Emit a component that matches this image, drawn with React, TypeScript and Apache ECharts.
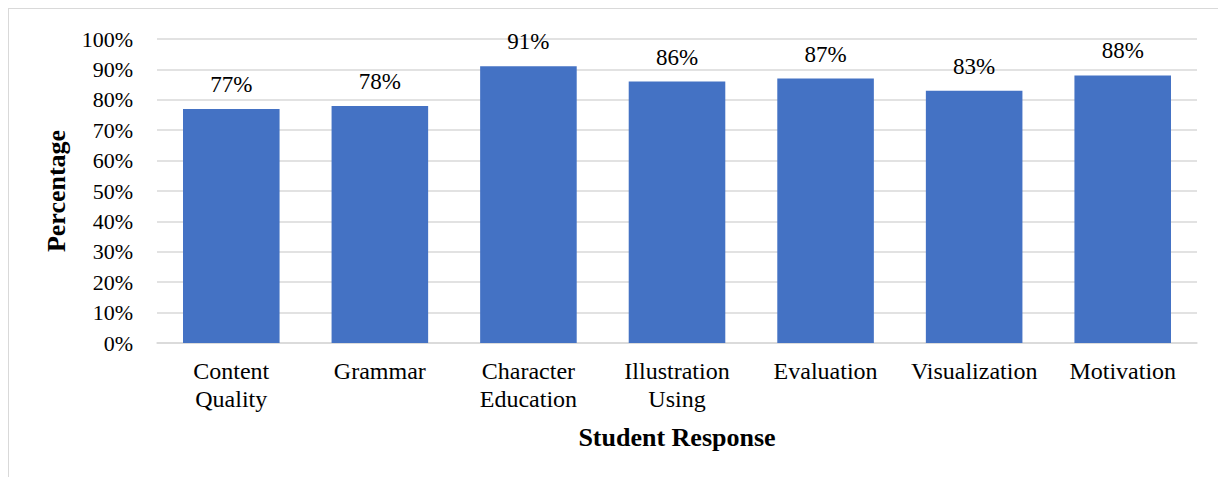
import React, { useEffect, useRef } from "react";
import * as echarts from "echarts";

const categories = [
  "Content\nQuality",
  "Grammar",
  "Character\nEducation",
  "Illustration\nUsing",
  "Evaluation",
  "Visualization",
  "Motivation",
];
const percentages = [77, 78, 91, 86, 87, 83, 88];
const yTicks = { min: 0, max: 100, interval: 10 };

const FONT = '"Liberation Serif", "Times New Roman", serif';

export default function App() {
  const ref = useRef<HTMLDivElement>(null);

  useEffect(() => {
    if (!ref.current) return;
    const chart = echarts.init(ref.current, undefined, { renderer: "svg" });
    chart.setOption({
      animation: false,
      grid: { left: 148, right: 26, top: 30, height: 304 },
      xAxis: {
        type: "category",
        data: categories,
        name: "Student Response",
        nameLocation: "middle",
        nameGap: 81,
        nameTextStyle: { fontFamily: FONT, fontSize: 26, fontWeight: "bold", color: "#000" },
        axisLine: { lineStyle: { color: "#d9d9d9", width: 1.5 } },
        axisTick: { show: false },
        axisLabel: {
          fontFamily: FONT,
          fontSize: 24,
          lineHeight: 28,
          color: "#000",
          margin: 14,
          interval: 0,
        },
      },
      yAxis: {
        type: "value",
        min: yTicks.min,
        max: yTicks.max,
        interval: yTicks.interval,
        name: "Percentage",
        nameLocation: "middle",
        nameGap: 88,
        nameRotate: 90,
        nameTextStyle: { fontFamily: FONT, fontSize: 26, fontWeight: "bold", color: "#000" },
        axisLine: { show: false },
        axisTick: { show: false },
        axisLabel: {
          fontFamily: FONT,
          fontSize: 22,
          color: "#000",
          margin: 24,
          formatter: (v: number) => `${v}%`,
        },
        splitLine: { lineStyle: { color: "#d9d9d9", width: 1.5 } },
      },
      series: [
        {
          type: "bar",
          data: percentages,
          barCategoryGap: "35%",
          itemStyle: { color: "#4472C4" },
          label: {
            show: true,
            position: "top",
            distance: 13,
            fontFamily: FONT,
            fontSize: 23,
            color: "#000",
            formatter: (p: any) => `${p.value}%`,
          },
        },
      ],
    });
    return () => chart.dispose();
  }, []);

  return (
    <div style={{ width: 1214, height: 480, border: "1px solid #d9d9d9" }}>
      <div ref={ref} style={{ width: 1214, height: 480 }} />
    </div>
  );
}
